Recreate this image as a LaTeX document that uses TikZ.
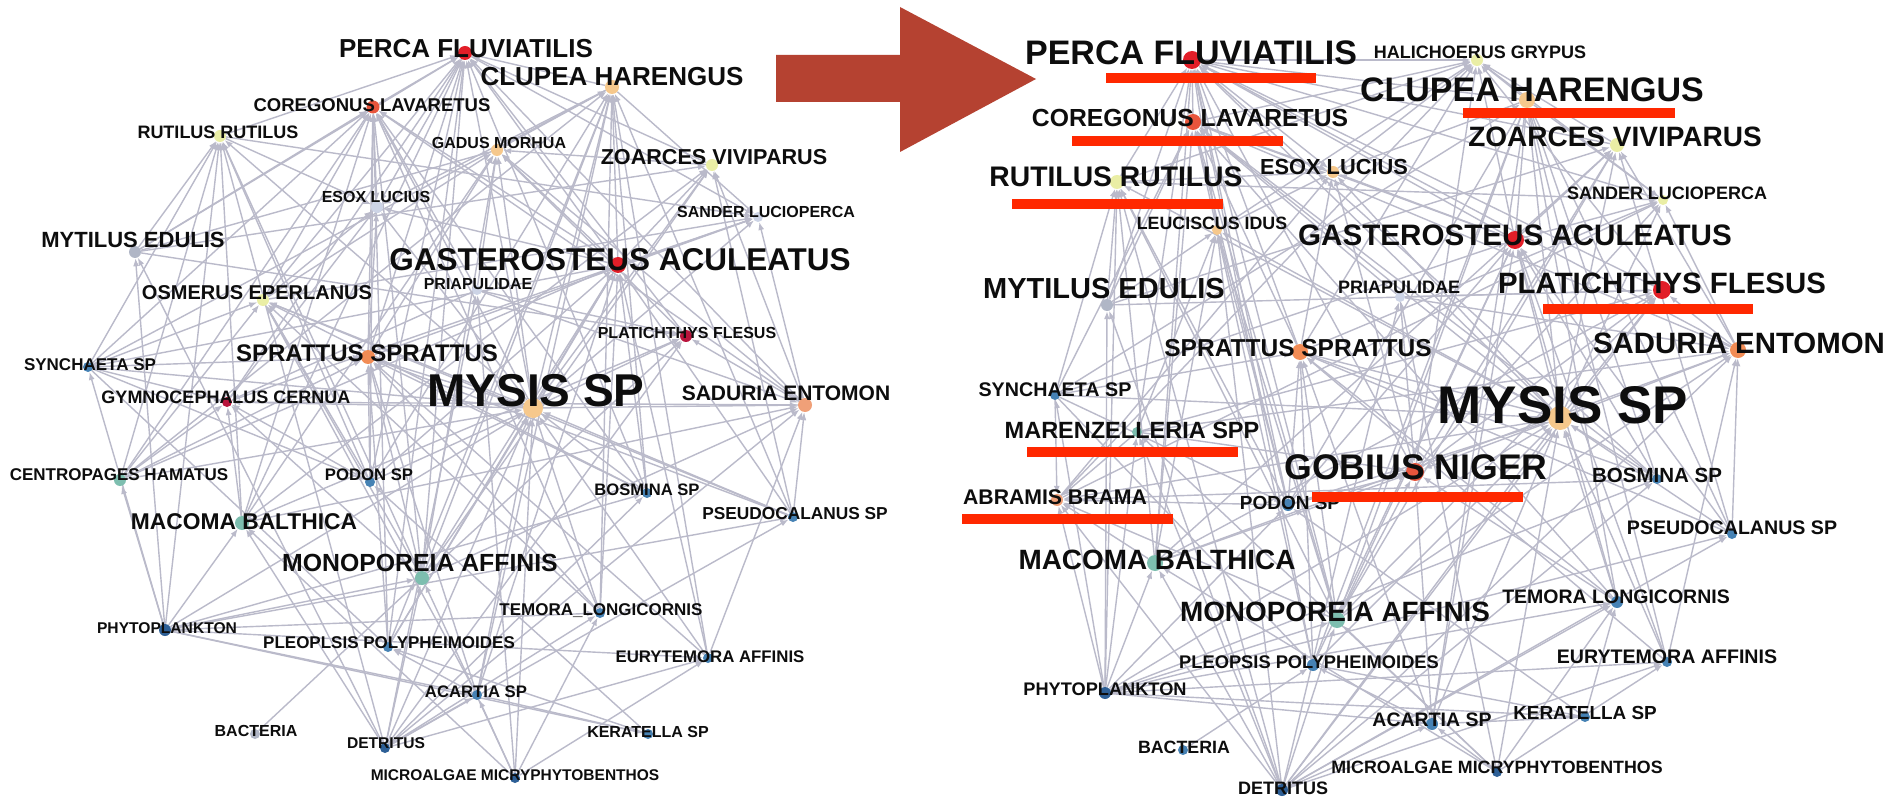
\documentclass[tikz,border=0pt]{standalone}
\usepackage{fontspec}
\setmainfont{Liberation Sans}
\usetikzlibrary{arrows.meta}
\pgfdeclarelayer{bg}
\pgfdeclarelayer{edges}
\pgfsetlayers{bg,edges,main}
\definecolor{edgec}{RGB}{186,186,202}
\definecolor{cRed}{RGB}{226,30,40}
\definecolor{cCrim}{RGB}{185,20,60}
\definecolor{cRedOr}{RGB}{232,85,60}
\definecolor{cOrange}{RGB}{242,140,85}
\definecolor{cLtOr}{RGB}{246,200,140}
\definecolor{cSalmon}{RGB}{240,160,120}
\definecolor{cYel}{RGB}{234,238,165}
\definecolor{cPale}{RGB}{205,212,230}
\definecolor{cGrey}{RGB}{176,182,198}
\definecolor{cTeal}{RGB}{125,190,175}
\definecolor{cBlue}{RGB}{70,130,180}
\definecolor{cDBlue}{RGB}{45,95,150}
\definecolor{ulred}{RGB}{255,40,0}
\definecolor{arrowc}{RGB}{181,66,49}
\begin{document}
\begin{tikzpicture}[x=1pt,y=-1pt,
  dot/.style={circle,inner sep=0pt,minimum size=#1,draw=none},
  lab/.style={font=\bfseries\fontsize{#1}{#1}\selectfont,inner sep=0pt,text depth=0pt,text=black!95},
  edge/.style={draw=edgec,line width=1.4pt,-{Latex[length=8pt,width=6pt]}},
]
\useasboundingbox (0,0) rectangle (1889,799);
\begin{pgfonlayer}{bg}
\fill[white] (0,0) rectangle (1889,799);
\end{pgfonlayer}

% ---------- left network: dots ----------
\foreach \n/\x/\y/\s/\c in {
 perca/465/53/14pt/cRed, clupea/612/87/14pt/cLtOr, coreg/373/107/13pt/cRedOr,
 rutil/220/136/12pt/cYel, gadus/497/150/12pt/cLtOr, zoarc/712/165/12pt/cYel,
 esox/377/207/12pt/cPale, sander/758/217/10pt/cPale, mytil/135/252/12pt/cGrey,
 gast/618/265/16pt/cRed, osmer/263/300/12pt/cYel, priap/477/290/10pt/cPale,
 plati/686/336/12pt/cCrim, sprat/368/357/14pt/cOrange, synch/88/367/10pt/cBlue,
 mysis/533/408/20pt/cLtOr, sadur/805/405/14pt/cSalmon, gymno/227/402/10pt/cCrim,
 centro/120/480/12pt/cTeal, podon/370/482/10pt/cBlue, bosm/647/493/10pt/cBlue,
 pseudo/793/517/10pt/cBlue, macoma/242/523/14pt/cTeal, monop/422/578/14pt/cTeal,
 temora/600/613/10pt/cBlue, phyto/165/630/12pt/cDBlue, pleop/388/647/10pt/cBlue,
 eury/708/658/10pt/cBlue, acart/477/695/10pt/cBlue, bact/255/734/10pt/cGrey,
 detr/385/748/10pt/cDBlue, kerat/648/734/10pt/cBlue, micro/515/778/10pt/cDBlue}
 \node[dot=\s,fill=\c] (L-\n) at (\x,\y) {};

% ---------- right network: dots ----------
\foreach \n/\x/\y/\s/\c in {
 perca/1192/60/18pt/cRed, hali/1477/60/12pt/cYel, clupea/1527/100/16pt/cLtOr,
 coreg/1193/122/16pt/cRedOr, zoarc/1617/145/14pt/cYel, esox/1333/172/12pt/cLtOr,
 rutil/1117/182/14pt/cYel, sander/1663/200/10pt/cYel, leuc/1217/230/10pt/cLtOr,
 gast/1515/240/18pt/cRed, mytil/1107/305/12pt/cGrey, priap/1400/297/10pt/cPale,
 plati/1662/290/18pt/cRed, sprat/1300/352/16pt/cOrange, sadur/1738/350/16pt/cOrange,
 synch/1055/395/10pt/cBlue, mysis/1560/418/24pt/cLtOr, maren/1137/432/10pt/cTeal,
 gobius/1415/472/18pt/cRedOr, bosm/1657/479/10pt/cBlue, abram/1057/500/12pt/cSalmon,
 podon/1288/505/12pt/cBlue, pseudo/1732/534/10pt/cBlue, macoma/1155/563/16pt/cTeal,
 temora/1617/602/12pt/cBlue, monop/1337/620/16pt/cTeal, eury/1667/662/10pt/cBlue,
 pleop/1313/665/12pt/cBlue, phyto/1105/693/12pt/cDBlue, kerat/1585/717/10pt/cBlue,
 acart/1432/724/12pt/cBlue, bact/1183/750/10pt/cBlue, micro/1497/772/10pt/cDBlue,
 detr/1282/790/12pt/cDBlue}
 \node[dot=\s,fill=\c] (R-\n) at (\x,\y) {};

% ---------- edges ----------
\begin{pgfonlayer}{edges}
\foreach \a/\bs in {
 phyto/{mytil,macoma,monop,centro,synch,bosm,pseudo,temora,eury,acart,kerat,mysis,rutil},
 detr/{macoma,monop,mysis,mytil,sadur,priap,bosm,eury,temora,acart,plati,rutil,pseudo},
 bact/{monop},
 micro/{macoma,monop,eury,temora,acart,mysis,priap},
 kerat/{podon,pleop,acart},
 synch/{podon,pleop,sprat,clupea,mysis,gast,osmer,coreg,rutil,gymno},
 centro/{sprat,clupea,gast,mysis,osmer,gymno,rutil,coreg},
 podon/{sprat,clupea,gast,osmer,mysis,coreg,rutil,gymno,perca},
 bosm/{sprat,clupea,gast,osmer,mysis,coreg,perca},
 pseudo/{sprat,clupea,gast,mysis,sadur,osmer,zoarc},
 temora/{sprat,clupea,gast,mysis,osmer,coreg},
 eury/{sprat,clupea,gast,mysis,sadur},
 acart/{sprat,clupea,gast,mysis,osmer,pleop},
 pleop/{sprat,clupea,gast,mysis,coreg,perca},
 macoma/{plati,sadur,coreg,gadus,zoarc,gymno,rutil,perca},
 monop/{sadur,plati,coreg,gadus,zoarc,gymno,osmer,perca,clupea,gast,rutil,sprat},
 mytil/{plati,gadus,zoarc,coreg,rutil,perca},
 priap/{plati,gadus,sadur,gymno,coreg},
 mysis/{perca,clupea,coreg,gadus,zoarc,gast,osmer,sprat,plati,gymno,sadur,sander,rutil,esox},
 sadur/{perca,gadus,zoarc,plati,coreg,gymno,sander},
 sprat/{perca,gadus,sander,esox,coreg},
 clupea/{perca,gadus,sander,esox},
 gast/{perca,gadus,sander,esox,zoarc,coreg,clupea},
 osmer/{perca,sander,esox,gadus,coreg},
 rutil/{perca,esox,sander},
 gymno/{perca,sander,esox},
 plati/{gadus,perca}, coreg/{esox,perca}, perca/{esox,sander}, zoarc/{gadus,perca}}
 {\foreach \b in \bs {\draw[edge] (L-\a) -- (L-\b);}}
\foreach \a/\bs in {
 phyto/{mytil,macoma,monop,synch,bosm,pseudo,temora,eury,acart,kerat,mysis,rutil,maren,abram,podon},
 detr/{macoma,monop,mysis,mytil,sadur,priap,bosm,eury,temora,acart,plati,rutil,pseudo,maren,abram,leuc},
 bact/{pleop},
 micro/{macoma,monop,eury,temora,acart,mysis,priap,maren},
 kerat/{podon,pleop,acart,temora},
 synch/{podon,pleop,sprat,clupea,mysis,gast,abram,coreg,rutil},
 podon/{sprat,clupea,gast,mysis,coreg,rutil,perca,gobius,abram,leuc},
 bosm/{sprat,clupea,gast,mysis,coreg,perca,abram},
 pseudo/{sprat,clupea,gast,mysis,sadur,zoarc},
 temora/{sprat,clupea,gast,mysis,coreg,gobius},
 eury/{sprat,clupea,gast,mysis,sadur},
 acart/{sprat,clupea,gast,mysis,pleop,gobius},
 pleop/{sprat,clupea,gast,mysis,coreg,perca},
 macoma/{plati,sadur,coreg,zoarc,rutil,perca,gobius,abram,leuc},
 monop/{sadur,plati,coreg,zoarc,perca,clupea,gast,rutil,sprat,gobius,abram,leuc},
 mytil/{plati,zoarc,coreg,rutil,perca,leuc},
 priap/{plati,sadur,coreg,gobius},
 maren/{plati,gobius,abram,leuc,sadur,perca},
 mysis/{perca,clupea,coreg,zoarc,gast,sprat,plati,sadur,sander,rutil,esox,gobius,abram,leuc},
 sadur/{perca,zoarc,plati,coreg,sander},
 gobius/{perca,sander,hali,esox,plati,zoarc},
 abram/{hali,esox,sander}, leuc/{hali,esox,perca},
 sprat/{perca,sander,esox,coreg,hali},
 clupea/{perca,sander,esox,hali},
 gast/{perca,sander,esox,zoarc,coreg,clupea,hali},
 rutil/{perca,esox,sander,hali},
 plati/{perca,hali}, coreg/{esox,perca,hali}, perca/{esox,sander,hali},
 zoarc/{perca,hali}, esox/{hali}, sander/{hali}}
 {\foreach \b in \bs {\draw[edge] (R-\a) -- (R-\b);}}
\end{pgfonlayer}

% ---------- left labels ----------
\foreach \t/\x/\y/\s [count=\i] in {
 {PERCA FLUVIATILIS}/466/48/26, {CLUPEA HARENGUS}/612/76/26,
 {COREGONUS LAVARETUS}/372/105/18.5, {RUTILUS RUTILUS}/218/132/18,
 {GADUS MORHUA}/499/143/16, {ZOARCES VIVIPARUS}/714/157/21.6,
 {ESOX LUCIUS}/376/197/16, {SANDER LUCIOPERCA}/766/212/16,
 {MYTILUS EDULIS}/133/240/22, {GASTEROSTEUS ACULEATUS}/620/260/31.5,
 {PRIAPULIDAE}/478/284/16, {OSMERUS EPERLANUS}/257/293/20,
 {PLATICHTHYS FLESUS}/687/333/16, {SPRATTUS SPRATTUS}/367/353/24,
 {SYNCHAETA SP}/90/365/17, {MYSIS SP}/536/390/46,
 {SADURIA ENTOMON}/786/393/21, {GYMNOCEPHALUS CERNUA}/226/397/18,
 {CENTROPAGES HAMATUS}/119/475/17, {PODON SP}/369/475/16.7,
 {BOSMINA SP}/647/490/16.6, {PSEUDOCALANUS SP}/795/513/17.3,
 {MACOMA BALTHICA}/244/522/22.8, {MONOPOREIA AFFINIS}/420/563/24.8,
 {TEMORA\_LONGICORNIS}/601/610/17, {PHYTOPLANKTON}/167/628/15.6,
 {PLEOPLSIS POLYPHEIMOIDES}/389/643/17, {EURYTEMORA AFFINIS}/710/657/16.8,
 {ACARTIA SP}/476/692/16.7, {BACTERIA}/256/731/16,
 {DETRITUS}/386/743/15.6, {KERATELLA SP}/648/732/16,
 {MICROALGAE MICRYPHYTOBENTHOS}/515/775/15.5}
 \node[lab=\s] (Lt-\i) at (\x,\y) {\t};

% ---------- right labels ----------
\foreach \t/\x/\y/\s [count=\i] in {
 {PERCA FLUVIATILIS}/1191/53/34, {HALICHOERUS GRYPUS}/1480/52/18,
 {CLUPEA HARENGUS}/1532/90/34, {COREGONUS LAVARETUS}/1190/118/24.7,
 {ZOARCES VIVIPARUS}/1615/137/28, {ESOX LUCIUS}/1334/167/21.8,
 {RUTILUS RUTILUS}/1116/177/28.3, {SANDER LUCIOPERCA}/1667/193/18,
 {LEUCISCUS IDUS}/1212/223/17.8, {GASTEROSTEUS ACULEATUS}/1515/235/29.6,
 {MYTILUS EDULIS}/1104/288/29, {PRIAPULIDAE}/1399/287/18,
 {PLATICHTHYS FLESUS}/1662/283/29.4, {SPRATTUS SPRATTUS}/1298/348/24.5,
 {SADURIA ENTOMON}/1739/343/29.4, {SYNCHAETA SP}/1055/390/19.7,
 {MYSIS SP}/1563/405/53, {MARENZELLERIA SPP}/1132/430/23.5,
 {GOBIUS NIGER}/1416/467/35.6, {BOSMINA SP}/1657/475/20.5,
 {ABRAMIS BRAMA}/1055/497/21.2, {PODON SP}/1290/503/19,
 {PSEUDOCALANUS SP}/1732/528/19.6, {MACOMA BALTHICA}/1157/560/27.9,
 {TEMORA LONGICORNIS}/1616/597/19.5, {MONOPOREIA AFFINIS}/1335/612/27.9,
 {EURYTEMORA AFFINIS}/1667/657/19.6, {PLEOPSIS POLYPHEIMOIDES}/1309/662/18.3,
 {PHYTOPLANKTON}/1105/689/18.2, {KERATELLA SP}/1585/713/18.9,
 {ACARTIA SP}/1432/720/19.5, {BACTERIA}/1184/747/17.8,
 {MICROALGAE MICRYPHYTOBENTHOS}/1497/767/17.8, {DETRITUS}/1283/788/18}
 \node[lab=\s] (Rt-\i) at (\x,\y) {\t};

% ---------- red underlines ----------
\foreach \xa/\xb/\y in {1106/1316/78, 1072/1283/141, 1012/1223/204, 1463/1675/113,
 1543/1753/309, 1027/1238/452, 1312/1523/497, 962/1173/519}
 \fill[ulred] (\xa,\y-5) rectangle (\xb,\y+5);

% ---------- big arrow ----------
\fill[arrowc] (776,55) -- (900,55) -- (900,7) -- (1036,79) -- (900,152) -- (900,102) -- (776,102) -- cycle;
\end{tikzpicture}
\end{document}
